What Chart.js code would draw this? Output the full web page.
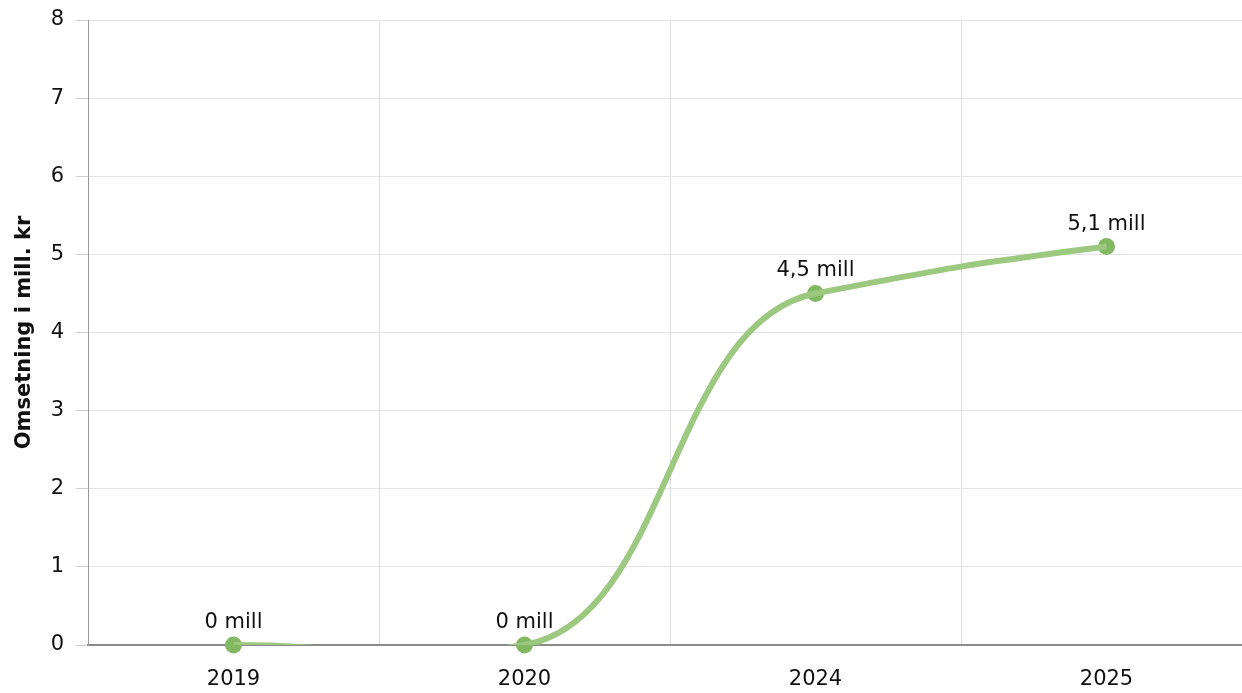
<!DOCTYPE html>
<html>
<head>
<meta charset="utf-8">
<script src="https://cdn.jsdelivr.net/npm/chart.js@4.4.1/dist/chart.umd.min.js"></script>
<style>
	html, body { margin: 0; padding: 0; overflow: hidden; background: #fff; }
	#wrap { position: absolute; left: 0; top: 0; width: 1252px; height: 693px; }
</style>
</head>
<body>
<div id="wrap"><canvas id="Omsetning"></canvas></div>
<script>
const years = ['2019', '2020', '2024', '2025'];
const revenue = [0, 0, 4.5, 5.1];
const yTicks = [0, 1, 2, 3, 4, 5, 6, 7, 8];

const FONT = '"DejaVu Sans", Verdana, sans-serif';
const SMOOTH = 0.28;   // how much of the neighbour slope the curve keeps at a point
const ENDS = 0.8;      // same, for the first and last point
const REACH = 0.5;     // horizontal reach of the bezier handles

const ctx = document.getElementById('Omsetning').getContext('2d');
Chart.defaults.font.family = FONT;
Chart.defaults.color = '#111';

// flatter spline than chart.js' own: handles reach sideways, slope damped
const smoothLine = {
	id: 'smoothLine',
	beforeDatasetDraw(chart, args) {
		if (args.index !== 0) return;
		const line = args.meta.dataset;
		const pts = args.meta.data;
		line.updateControlPoints(chart.chartArea, 'x');
		for (let i = 0; i < pts.length; i++) {
			const p = pts[i];
			const prev = pts[i - 1] || p;
			const next = pts[i + 1] || p;
			const k = (i === 0 || i === pts.length - 1) ? ENDS : SMOOTH;
			const m = next.x !== prev.x ? k * (next.y - prev.y) / (next.x - prev.x) : 0;
			if (i > 0) {
				const d = (p.x - prev.x) * REACH;
				p.cp1x = p.x - d;
				p.cp1y = p.y - m * d;
			}
			if (i < pts.length - 1) {
				const d = (next.x - p.x) * REACH;
				p.cp2x = p.x + d;
				p.cp2y = p.y + m * d;
			}
		}
		delete line._path;
	}
};

// labels above each point, "4,5 mill"
const pointLabels = {
	id: 'pointLabels',
	afterDatasetsDraw(chart) {
		const meta = chart.getDatasetMeta(1);
		const c = chart.ctx;
		c.save();
		c.font = '21px ' + FONT;
		c.fillStyle = '#111';
		c.textAlign = 'center';
		c.textBaseline = 'alphabetic';
		meta.data.forEach((pt, i) => {
			const txt = String(revenue[i]).replace('.', ',') + ' mill';
			c.fillText(txt, pt.x, pt.y - 17);
		});
		c.restore();
	}
};

new Chart(ctx, {
	type: 'line',
	data: {
		labels: years,
		datasets: [{
			label: 'Omsetning',
			data: revenue,
			borderColor: '#9cc880',
			borderWidth: 6,
			tension: 0.4,
			capBezierPoints: false,
			pointRadius: 0,
			pointHoverRadius: 0,
			clip: 0
		}, {
			label: 'Punkter',
			data: revenue,
			showLine: false,
			pointRadius: 8.5,
			pointHoverRadius: 8.5,
			pointBackgroundColor: '#83b863',
			pointBorderWidth: 0,
			clip: false
		}]
	},
	options: {
		responsive: true,
		maintainAspectRatio: false,
		animation: false,
		events: [],
		layout: { autoPadding: false, padding: { top: 20, left: 0, right: 0, bottom: 0 } },
		plugins: {
			legend: { display: false },
			tooltip: { enabled: false }
		},
		scales: {
			x: {
				offset: true,
				afterFit: (axis) => { axis.height = 48; },
				grid: {
					offset: true,
					color: '#dedede',
					drawTicks: false
				},
				border: { color: '#8a8a8a', width: 2 },
				ticks: { font: { size: 21 }, padding: 22, color: '#111' }
			},
			y: {
				min: 0,
				max: 8,
				afterBuildTicks: (axis) => { axis.ticks = yTicks.map(v => ({value: v})); },
				afterFit: (axis) => {
					axis.width = 88;
					axis.paddingTop = 0;
					axis.paddingBottom = 0;
				},
				grid: {
					color: '#e4e4e4',
					tickLength: 12,
					tickColor: '#cfcfcf'
				},
				border: { color: '#9a9a9a', width: 1 },
				ticks: { font: { size: 21 }, padding: 12, color: '#111' },
				title: {
					display: true,
					text: 'Omsetning i mill. kr',
					color: '#111',
					font: { size: 21, weight: 'bold' },
					padding: { top: 12, bottom: 0 }
				}
			}
		}
	},
	plugins: [smoothLine, pointLabels]
});
</script>
</body>
</html>
